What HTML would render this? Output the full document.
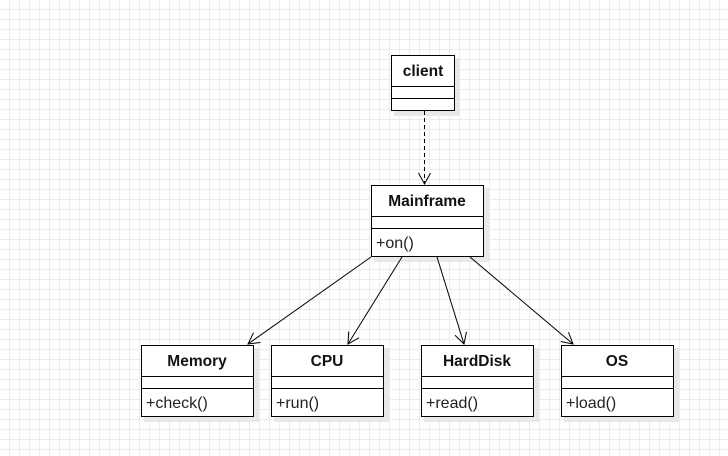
<!DOCTYPE html>
<html><head><style>
body{margin:0;width:728px;height:456px;overflow:hidden;background:#fff;
background-image:linear-gradient(#ececec 1px,transparent 1px),linear-gradient(90deg,#ececec 1px,transparent 1px);background-size:10px 10px;background-position:-1px -1px}
svg{position:absolute;left:0;top:0}
text{font-family:"Liberation Sans",Arial,sans-serif;font-size:16px;fill:#222}
.b{font-weight:bold;text-anchor:middle;font-size:15.5px;fill:#111}
</style></head><body>
<svg width="728" height="456">
<defs><marker id="a" markerWidth="14" markerHeight="14" refX="12" refY="7" orient="auto" markerUnits="userSpaceOnUse"><path d="M1,1 L12,7 L1,13" fill="none" stroke="#000" stroke-width="1"/></marker></defs>
<g fill="#e8e8e8">
<rect x="394" y="58" width="66" height="58"/>
<rect x="374" y="188" width="115" height="74"/>
<rect x="144" y="348" width="115" height="74"/>
<rect x="274" y="348" width="115" height="74"/>
<rect x="424" y="348" width="115" height="74"/>
<rect x="564" y="348" width="115" height="74"/>
</g>
<g fill="#fff" stroke="#000" stroke-width="1">
<rect x="391.5" y="55.5" width="63" height="55"/><path d="M391.5 86.5H454.5M391.5 98.5H454.5"/>
<rect x="371.5" y="185.5" width="112" height="71"/><path d="M371.5 216.5H483.5M371.5 228.5H483.5"/>
<rect x="141.5" y="345.5" width="112" height="71"/><path d="M141.5 376.5H253.5M141.5 388.5H253.5"/>
<rect x="271.5" y="345.5" width="112" height="71"/><path d="M271.5 376.5H383.5M271.5 388.5H383.5"/>
<rect x="421.5" y="345.5" width="112" height="71"/><path d="M421.5 376.5H533.5M421.5 388.5H533.5"/>
<rect x="561.5" y="345.5" width="112" height="71"/><path d="M561.5 376.5H673.5M561.5 388.5H673.5"/>
</g>
<g stroke="#000" fill="none">
<path d="M424.5 111V184" stroke-dasharray="4 3" marker-end="url(#a)"/>
<path d="M371 257L248 344" marker-end="url(#a)"/>
<path d="M402 257L348 344" marker-end="url(#a)"/>
<path d="M437 257L464 344" marker-end="url(#a)"/>
<path d="M470 257L573 344" marker-end="url(#a)"/>
</g>
<text class="b" x="423" y="76">client</text>
<text class="b" x="427" y="206">Mainframe</text>
<text x="376" y="248">+on()</text>
<text class="b" x="197" y="366">Memory</text>
<text x="146" y="408">+check()</text>
<text class="b" x="327" y="366">CPU</text>
<text x="276" y="408">+run()</text>
<text class="b" x="477" y="366">HardDisk</text>
<text x="426" y="408">+read()</text>
<text class="b" x="617" y="366">OS</text>
<text x="566" y="408">+load()</text>
</svg>
</body></html>
